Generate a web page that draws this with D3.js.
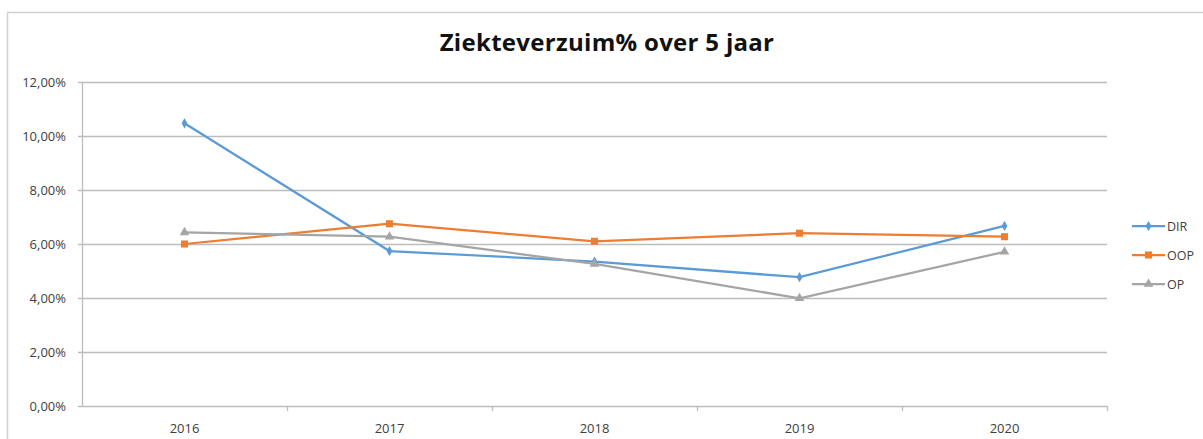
<!DOCTYPE html>
<html>
<head>
<meta charset="utf-8">
<script src="https://cdn.jsdelivr.net/npm/d3@7"></script>
<style>
  body { margin: 0; background: #fff; }
  svg { display: block; font-family: "Open Sans", "Noto Sans", sans-serif; }
</style>
</head>
<body>
<div id="chart"></div>
<script>
const years = ['2016', '2017', '2018', '2019', '2020'];
const dirValues = [10.47, 5.74, 5.35, 4.77, 6.67];
const oopValues = [6.00, 6.75, 6.10, 6.40, 6.27];
const opValues = [6.43, 6.27, 5.26, 3.99, 5.71];
const yTicks = [0, 2, 4, 6, 8, 10, 12];

const series = [
  { name: 'DIR', values: dirValues, color: '#5B9BD5', symbol: d3.symbolDiamond, size: 30 },
  { name: 'OOP', values: oopValues, color: '#ED7D31', symbol: d3.symbolSquare, size: 50 },
  { name: 'OP', values: opValues, color: '#A5A5A5', symbol: d3.symbolTriangle, size: 40 }
];

const width = 1203, height = 439;
const plot = { left: 82, right: 1107, top: 82, bottom: 406 };

const svg = d3.select('#chart')
  .append('svg')
  .attr('width', width)
  .attr('height', height);

// Chart border
svg.append('rect')
  .attr('x', 7.5)
  .attr('y', 12.5)
  .attr('width', 1210)
  .attr('height', 450)
  .attr('fill', '#fff')
  .attr('stroke', '#D0D0D0')
  .attr('stroke-width', 1.5);

// Title
svg.append('text')
  .attr('x', 607)
  .attr('y', 51)
  .attr('text-anchor', 'middle')
  .style('font-size', '24px')
  .style('font-weight', '700')
  .style('letter-spacing', '0.3px')
  .style('fill', '#111')
  .text('Ziekteverzuim% over 5 jaar');

const x = d3.scaleBand()
  .domain(years)
  .range([plot.left, plot.right]);

const y = d3.scaleLinear()
  .domain([0, 12])
  .range([plot.bottom, plot.top]);

// Gridlines
svg.append('g')
  .selectAll('line')
  .data(yTicks)
  .enter()
  .append('line')
  .attr('x1', plot.left - 4)
  .attr('x2', plot.right)
  .attr('y1', d => Math.round(y(d)) + 0.5)
  .attr('y2', d => Math.round(y(d)) + 0.5)
  .attr('stroke', '#BDBDBD')
  .attr('stroke-width', 1.3);

// Y axis line
svg.append('line')
  .attr('x1', plot.left + 0.5)
  .attr('x2', plot.left + 0.5)
  .attr('y1', plot.top)
  .attr('y2', plot.bottom)
  .attr('stroke', '#BDBDBD')
  .attr('stroke-width', 1.3);

// Y tick labels
svg.append('g')
  .selectAll('text')
  .data(yTicks)
  .enter()
  .append('text')
  .attr('x', plot.left - 16)
  .attr('y', d => y(d) + 4.5)
  .attr('text-anchor', 'end')
  .style('font-size', '13px')
  .style('fill', '#404040')
  .text(d => d.toFixed(2).replace('.', ',') + '%');

// X axis ticks at band boundaries
const boundaries = years.map(d => x(d)).concat([plot.right]);
svg.append('g')
  .selectAll('line')
  .data(boundaries.slice(1))
  .enter()
  .append('line')
  .attr('x1', d => Math.round(d) + 0.5)
  .attr('x2', d => Math.round(d) + 0.5)
  .attr('y1', plot.bottom)
  .attr('y2', plot.bottom + 5)
  .attr('stroke', '#BDBDBD')
  .attr('stroke-width', 1.3);

// X labels
svg.append('g')
  .selectAll('text')
  .data(years)
  .enter()
  .append('text')
  .attr('x', d => x(d) + x.bandwidth() / 2)
  .attr('y', 433)
  .attr('text-anchor', 'middle')
  .style('font-size', '13px')
  .style('fill', '#404040')
  .text(d => d);

const line = d3.line()
  .x((d, i) => x(years[i]) + x.bandwidth() / 2)
  .y(d => y(d));

series.forEach(s => {
  svg.append('path')
    .datum(s.values)
    .attr('fill', 'none')
    .attr('stroke', s.color)
    .attr('stroke-width', 2.25)
    .attr('d', line);

  svg.append('g')
    .selectAll('path')
    .data(s.values)
    .enter()
    .append('path')
    .attr('transform', (d, i) => `translate(${x(years[i]) + x.bandwidth() / 2},${y(d)})`)
    .attr('d', d3.symbol().type(s.symbol).size(s.size))
    .attr('fill', s.color);
});

// Legend
const legend = svg.append('g');
series.forEach((s, i) => {
  const ly = 226 + i * 29;
  legend.append('line')
    .attr('x1', 1132)
    .attr('x2', 1165)
    .attr('y1', ly)
    .attr('y2', ly)
    .attr('stroke', s.color)
    .attr('stroke-width', 2.25);
  legend.append('path')
    .attr('transform', `translate(1148.5,${ly})`)
    .attr('d', d3.symbol().type(s.symbol).size(s.size))
    .attr('fill', s.color);
  legend.append('text')
    .attr('x', 1167)
    .attr('y', ly + 4.5)
    .style('font-size', '12.5px')
    .style('fill', '#404040')
    .text(s.name);
});
</script>
</body>
</html>
